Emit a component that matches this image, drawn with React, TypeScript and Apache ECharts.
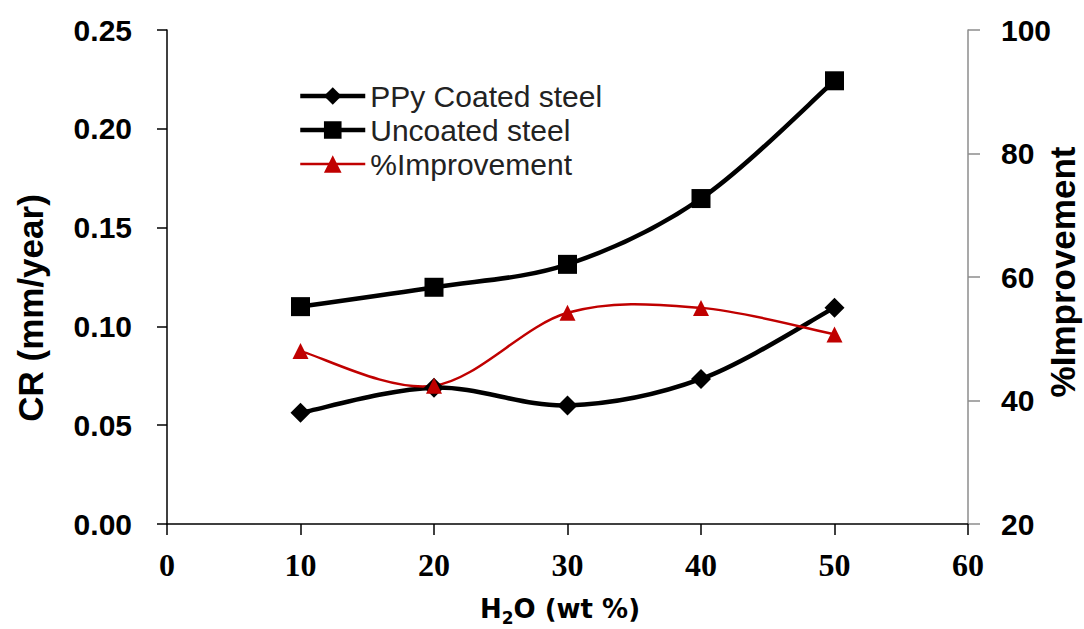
import React, { useEffect, useRef } from "react";
import * as echarts from "echarts";

const xValues = [10, 20, 30, 40, 50];
const ppyCoated = [0.0563, 0.069, 0.06, 0.0734, 0.1095];
const uncoated = [0.11, 0.1198, 0.1314, 0.1647, 0.2243];
const improvement = [48.0, 42.4, 54.2, 55.0, 50.7];

const seriesNames = ["PPy Coated steel", "Uncoated steel", "%Improvement"];
const leftTicks = { min: 0, max: 0.25, interval: 0.05 };
const rightTicks = { min: 20, max: 100, interval: 20 };
const xTicks = { min: 0, max: 60, interval: 10 };

const pairs = (ys: number[]) => xValues.map((x, i) => [x, ys[i]]);

// Excel-like smoothing (Catmull-Rom converted to cubic Bezier) in pixel space
function smoothPath(pts: number[][]): string {
  let d = `M${pts[0][0]},${pts[0][1]}`;
  for (let i = 0; i < pts.length - 1; i++) {
    const p0 = pts[i - 1] || pts[i];
    const p1 = pts[i];
    const p2 = pts[i + 1];
    const p3 = pts[i + 2] || pts[i + 1];
    const c1x = p1[0] + (p2[0] - p0[0]) / 6;
    const c1y = p1[1] + (p2[1] - p0[1]) / 6;
    const c2x = p2[0] - (p3[0] - p1[0]) / 6;
    const c2y = p2[1] - (p3[1] - p1[1]) / 6;
    d += ` C${c1x},${c1y} ${c2x},${c2y} ${p2[0]},${p2[1]}`;
  }
  return d;
}

const curveSeries = (name: string, ys: number[], axis: number, color: string, width: number, z: number) => ({
  type: "custom",
  name,
  yAxisIndex: axis,
  data: pairs(ys),
  encode: { x: 0, y: 1 },
  silent: true,
  z,
  renderItem: (params: any, api: any) => {
    if (params.dataIndex !== 0) return null;
    const pts = xValues.map((x, i) => api.coord([x, ys[i]]));
    return {
      type: "path",
      shape: { pathData: smoothPath(pts) },
      style: { stroke: color, lineWidth: width, fill: "none" },
    };
  },
});

export default function App() {
  const ref = useRef<HTMLDivElement>(null);
  useEffect(() => {
    if (!ref.current) return;
    const chart = echarts.init(ref.current, null, { renderer: "svg" });
    const sans = "'Liberation Sans', Arial, sans-serif";
    chart.setOption({
      animation: false,
      backgroundColor: "#ffffff",
      grid: { left: 167, right: 116, top: 30, bottom: 105, containLabel: false },
      legend: {
        orient: "vertical",
        left: 293,
        top: 76,
        itemWidth: 65,
        itemHeight: 22,
        itemGap: 4,
        itemTextGap: 3,
        textStyle: { fontFamily: sans, fontSize: 30, color: "#222", lineHeight: 30 },
        data: [
          { name: seriesNames[0], lineStyle: { color: "#000", width: 4.5, opacity: 1 } },
          { name: seriesNames[1], lineStyle: { color: "#000", width: 4.5, opacity: 1 } },
          { name: seriesNames[2], lineStyle: { color: "#c00000", width: 2.5, opacity: 1 } },
        ],
      },
      xAxis: {
        type: "value",
        min: xTicks.min,
        max: xTicks.max,
        interval: xTicks.interval,
        splitLine: { show: false },
        axisLine: { show: true, onZero: false, lineStyle: { color: "#000", width: 1.5 } },
        axisTick: { show: true, length: 11, lineStyle: { color: "#000", width: 1.5 } },
        axisLabel: {
          color: "#000",
          fontFamily: "'Liberation Serif', 'Times New Roman', serif",
          fontWeight: "bold",
          fontSize: 32,
          margin: 25,
        },
      },
      yAxis: [
        {
          type: "value",
          position: "left",
          min: leftTicks.min,
          max: leftTicks.max,
          interval: leftTicks.interval,
          splitLine: { show: false },
          axisLine: { show: true, lineStyle: { color: "#000", width: 1.5 } },
          axisTick: { show: true, length: 10, lineStyle: { color: "#000", width: 1.5 } },
          axisLabel: {
            color: "#000",
            fontFamily: sans,
            fontWeight: "bold",
            fontSize: 30,
            margin: 35,
            formatter: (v: number) => v.toFixed(2),
          },
        },
        {
          type: "value",
          position: "right",
          min: rightTicks.min,
          max: rightTicks.max,
          interval: rightTicks.interval,
          splitLine: { show: false },
          axisLine: { show: true, lineStyle: { color: "#8c8c8c", width: 1.5 } },
          axisTick: { show: true, length: 12, lineStyle: { color: "#8c8c8c", width: 1.5 } },
          axisLabel: {
            color: "#000",
            fontFamily: sans,
            fontWeight: "bold",
            fontSize: 30,
            margin: 33,
          },
        },
      ],
      graphic: [
        {
          type: "text",
          x: 30,
          y: 308,
          rotation: Math.PI / 2,
          style: {
            text: "CR (mm/year)",
            font: `bold 35px ${sans}`,
            fill: "#000",
            align: "center",
            verticalAlign: "middle",
            textAlign: "center",
            textVerticalAlign: "middle",
          },
        },
        {
          type: "text",
          x: 1062,
          y: 272,
          rotation: Math.PI / 2,
          style: {
            text: "%Improvement",
            font: `bold 35px ${sans}`,
            fill: "#000",
            align: "center",
            verticalAlign: "middle",
            textAlign: "center",
            textVerticalAlign: "middle",
          },
        },
        {
          type: "text",
          x: 560,
          y: 609,
          style: {
            text: "{b|H}{s|2}{b|O (wt %)}",
            fill: "#000",
            align: "center",
            verticalAlign: "middle",
            textAlign: "center",
            textVerticalAlign: "middle",
            rich: {
              b: { fontFamily: "'DejaVu Sans', sans-serif", fontWeight: "bold", fontSize: 26, fill: "#000", color: "#000" },
              s: {
                fontFamily: "'DejaVu Sans', sans-serif",
                fontWeight: "bold",
                fontSize: 17,
                fill: "#000",
                color: "#000",
                padding: [18, 0, 0, 0],
              },
            },
          },
        },
      ],
      series: [
        curveSeries("PPy curve", ppyCoated, 0, "#000", 4.5, 2),
        curveSeries("Uncoated curve", uncoated, 0, "#000", 4.5, 2),
        curveSeries("Improvement curve", improvement, 1, "#c00000", 2.5, 3),
        {
          name: seriesNames[0],
          type: "line",
          yAxisIndex: 0,
          data: pairs(ppyCoated),
          symbol: "diamond",
          symbolSize: 20,
          itemStyle: { color: "#000" },
          lineStyle: { color: "#000", width: 4.5, opacity: 0 },
          z: 4,
        },
        {
          name: seriesNames[1],
          type: "line",
          yAxisIndex: 0,
          data: pairs(uncoated),
          symbol: "rect",
          symbolSize: 19,
          itemStyle: { color: "#000" },
          lineStyle: { color: "#000", width: 4.5, opacity: 0 },
          z: 4,
        },
        {
          name: seriesNames[2],
          type: "line",
          yAxisIndex: 1,
          data: pairs(improvement),
          symbol: "triangle",
          symbolSize: 16,
          itemStyle: { color: "#c00000" },
          lineStyle: { color: "#c00000", width: 2.5, opacity: 0 },
          z: 5,
        },
      ],
    });
    return () => chart.dispose();
  }, []);
  return (
    <div
      ref={ref}
      style={{ position: "fixed", left: 0, top: 0, width: 1084, height: 629, background: "#fff" }}
    />
  );
}
